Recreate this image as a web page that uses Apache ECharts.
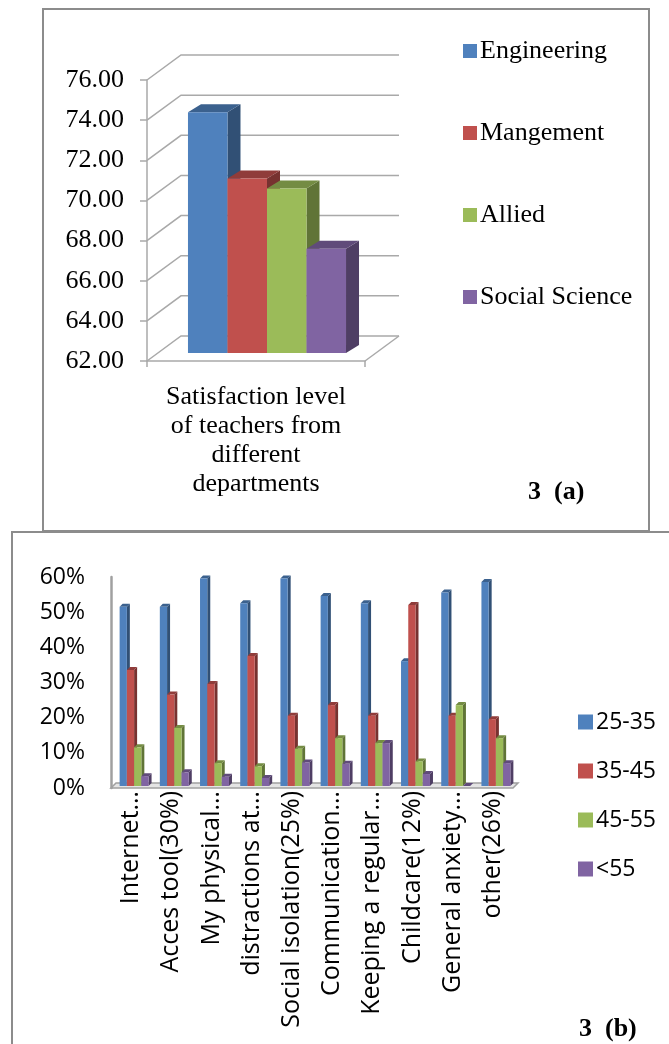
<!DOCTYPE html>
<html>
<head>
<meta charset="utf-8">
<script src="https://cdn.jsdelivr.net/npm/echarts@6/dist/echarts.min.js"></script>
<style>
  html, body { margin: 0; padding: 0; background: #fff; }
  #chart { width: 669px; height: 1044px; }
</style>
</head>
<body>
<div id="chart"></div>
<script>
// 3 (a) satisfaction level by department
const deptNames = ['Engineering', 'Mangement', 'Allied', 'Social Science']
const deptValues = [74.0, 70.7, 70.2, 67.2]
const satCategory = ['Satisfaction level\nof teachers from\ndifferent\ndepartments']
const satTicks = [62, 64, 66, 68, 70, 72, 74, 76]

// 3 (b) challenges by age group
const challengeCats = ['Internet…', 'Acces tool(30%)', 'My physical…', 'distractions at…', 'Social isolation(25%)',
  'Communication…', 'Keeping a regular…', 'Childcare(12%)', 'General anxiety…', 'other(26%)']
const ageGroups = ['25-35', '35-45', '45-55', '<55']
const age2535 = [0.51, 0.51, 0.59, 0.52, 0.59, 0.54, 0.52, 0.355, 0.55, 0.58]
const age3545 = [0.33, 0.26, 0.29, 0.37, 0.20, 0.23, 0.20, 0.515, 0.20, 0.19]
const age4555 = [0.11, 0.165, 0.065, 0.056, 0.106, 0.136, 0.122, 0.07, 0.23, 0.136]
const age55 = [0.028, 0.039, 0.026, 0.023, 0.067, 0.063, 0.122, 0.034, 0, 0.065]

const colors = ['#4f81bd', '#c0504d', '#9bbb59', '#8064a2']
const gridGray = '#a9a9a9'

function shade(hex, k) {
  const n = parseInt(hex.slice(1), 16)
  const r = Math.round(((n >> 16) & 255) * k)
  const g = Math.round(((n >> 8) & 255) * k)
  const b = Math.round((n & 255) * k)
  return 'rgb(' + r + ',' + g + ',' + b + ')'
}

// fake 3d column: front face, top face, right side
function bar3d(conf) {
  return function(params, api) {
    const cat = api.value(0)
    const p = api.coord([cat, api.value(1)])
    const b = api.coord([cat, conf.base])
    const band = api.size([1, 0])[0]
    const bw = band * conf.groupRatio / conf.count
    const x0 = p[0] - band * conf.groupRatio / 2 + conf.index * bw + conf.shiftX
    const x1 = x0 + bw
    const yt = p[1] - conf.shiftY
    const yb = b[1] - conf.shiftY
    const dx = conf.dx
    const dy = conf.dy
    const c = conf.color
    return {
      type: 'group',
      children: [
        { type: 'polygon', shape: { points: [[x1, yt], [x1 + dx, yt - dy], [x1 + dx, yb - dy], [x1, yb]] }, style: { fill: shade(c, 0.62) } },
        { type: 'polygon', shape: { points: [[x0, yt], [x1, yt], [x1 + dx, yt - dy], [x0 + dx, yt - dy]] }, style: { fill: shade(c, 0.75) } },
        { type: 'rect', shape: { x: x0, y: yt, width: bw, height: yb - yt }, style: { fill: c } }
      ]
    }
  }
}

const wallDX = 34
const wallDY = 25

function renderWall(params, api) {
  const cs = params.coordSys
  const v = api.value(1)
  const y = api.coord([0, v])[1]
  const x0 = cs.x
  const x1 = cs.x + cs.width
  const kids = [{
    type: 'polyline',
    shape: { points: [[x0, y], [x0 + wallDX, y - wallDY], [x1 + wallDX, y - wallDY]] },
    style: { stroke: gridGray, lineWidth: 1.5, fill: null }
  }]
  if (v === satTicks[0]) {
    kids.push({ type: 'line', shape: { x1: x1, y1: y, x2: x1 + wallDX, y2: y - wallDY }, style: { stroke: gridGray, lineWidth: 1.5 } })
  }
  return { type: 'group', children: kids }
}

function renderFloor(params, api) {
  const cs = params.coordSys
  const y = cs.y + cs.height
  const x0 = cs.x
  const x1 = cs.x + cs.width
  return {
    type: 'polygon',
    shape: { points: [[x0, y], [x1, y], [x1 + 5, y - 5], [x0 + 5, y - 5]] },
    style: { fill: '#e4e4e4', stroke: '#a0a0a0', lineWidth: 1.5 }
  }
}

const series = []

series.push({
  name: 'wall',
  type: 'custom',
  xAxisIndex: 0,
  yAxisIndex: 0,
  renderItem: renderWall,
  data: satTicks.map(v => [0, v]),
  silent: true,
  z: 1
})

for (let i = 0; i < deptNames.length; i++) {
  series.push({
    name: deptNames[i],
    type: 'custom',
    xAxisIndex: 0,
    yAxisIndex: 0,
    itemStyle: { color: colors[i] },
    renderItem: bar3d({ base: 62, index: i, count: 4, groupRatio: 0.725, shiftX: 11, shiftY: 8, dx: 13, dy: 8, color: colors[i] }),
    data: [[0, deptValues[i]]],
    z: 2
  })
}

series.push({
  name: 'floor',
  type: 'custom',
  xAxisIndex: 1,
  yAxisIndex: 1,
  renderItem: renderFloor,
  data: [[0, 0]],
  silent: true,
  z: 1
})

const ageData = [age2535, age3545, age4555, age55]
for (let i = 0; i < ageGroups.length; i++) {
  series.push({
    name: ageGroups[i],
    type: 'custom',
    xAxisIndex: 1,
    yAxisIndex: 1,
    itemStyle: { color: colors[i] },
    renderItem: bar3d({ base: 0, index: i, count: 4, groupRatio: 0.72, shiftX: 3, shiftY: 2, dx: 3, dy: 3, color: colors[i] }),
    data: ageData[i].map((v, j) => [j, v]),
    z: 2
  })
}

const chart = echarts.init(document.getElementById('chart'))
chart.setOption({
  animation: false,
  backgroundColor: '#fff',
  grid: [
    { left: 147, top: 80, width: 218, height: 281 },
    { left: 111, top: 577, width: 402, height: 211 }
  ],
  xAxis: [{
    gridIndex: 0,
    type: 'category',
    data: satCategory,
    axisLine: { lineStyle: { color: gridGray, width: 1.5 } },
    axisTick: { show: true, length: 6, lineStyle: { color: gridGray, width: 1.5 } },
    axisLabel: { fontFamily: 'Liberation Serif', fontSize: 26, lineHeight: 29, color: '#000', margin: 22 }
  }, {
    gridIndex: 1,
    type: 'category',
    data: challengeCats,
    axisLine: { show: false },
    axisTick: { show: false },
    axisLabel: { rotate: 90, interval: 0, fontFamily: 'Open Sans', fontSize: 25, color: '#000', margin: 3 }
  }],
  yAxis: [{
    gridIndex: 0,
    type: 'value',
    min: 62,
    max: 76,
    interval: 2,
    axisLine: { show: true, lineStyle: { color: gridGray, width: 1.5 } },
    axisTick: { show: true, length: 7, lineStyle: { color: gridGray, width: 1.5 } },
    splitLine: { show: false },
    axisLabel: { formatter: v => v.toFixed(2), fontFamily: 'Liberation Serif', fontSize: 26, color: '#000', margin: 23 }
  }, {
    gridIndex: 1,
    type: 'value',
    min: 0,
    max: 0.6,
    interval: 0.1,
    axisLine: { show: true, lineStyle: { color: '#a0a0a0', width: 2.5 } },
    axisTick: { show: false },
    splitLine: { show: false },
    axisLabel: { formatter: v => Math.round(v * 100) + '%', fontFamily: 'Open Sans', fontSize: 23, color: '#000', margin: 26 }
  }],
  legend: [{
    data: deptNames,
    orient: 'vertical',
    left: 458,
    top: 33,
    icon: 'rect',
    itemWidth: 14,
    itemHeight: 14,
    itemGap: 56,
    textStyle: { fontFamily: 'Liberation Serif', fontSize: 26, lineHeight: 26, color: '#000', padding: [0, 0, 0, -2] }
  }, {
    data: ageGroups,
    orient: 'vertical',
    left: 573,
    top: 705,
    icon: 'rect',
    itemWidth: 15,
    itemHeight: 15,
    itemGap: 25,
    textStyle: { fontFamily: 'Open Sans', fontSize: 23, lineHeight: 24, color: '#000', padding: [0, 0, 0, -2] }
  }],
  graphic: [
    { type: 'rect', shape: { x: 43, y: 9, width: 606, height: 522 }, style: { fill: 'none', stroke: '#8c8c8c', lineWidth: 2 } },
    { type: 'rect', shape: { x: 12, y: 532, width: 700, height: 600 }, style: { fill: 'none', stroke: '#8c8c8c', lineWidth: 2 } },
    { type: 'text', left: 528, top: 479, style: { text: '3  (a)', font: 'bold 26px "Liberation Serif"', fill: '#000' } },
    { type: 'text', left: 579, top: 1016, style: { text: '3  (b)', font: 'bold 26px "Liberation Serif"', fill: '#000' } }
  ],
  series: series
})
</script>
</body>
</html>
